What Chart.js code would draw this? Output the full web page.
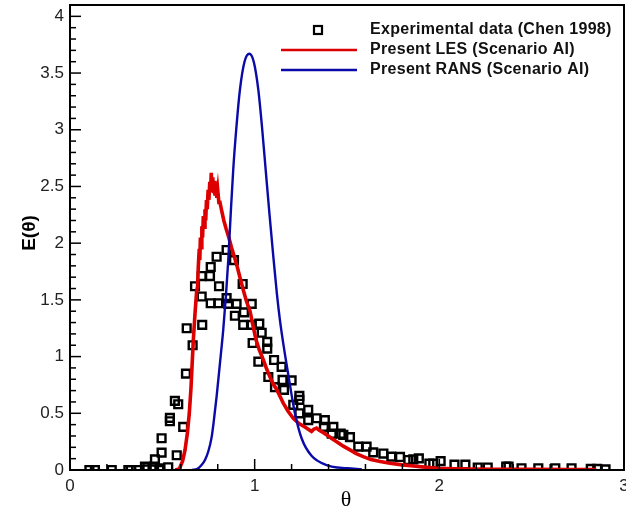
<!DOCTYPE html>
<html lang="en">

<head>
    <meta charset="UTF-8">
    <title>E(θ) residence time distribution</title>
    <script src="https://cdn.jsdelivr.net/npm/chart.js"></script>
    <style>
        body {
            margin: 0;
            background: #ffffff;
        }

        #wrap {
            width: 626px;
            height: 514px;
        }
    </style>
</head>

<body>
    <div id="wrap"><canvas id="rtd" width="626" height="514"></canvas></div>

    <script>
        // Experimental data (Chen 1998)
        const expTheta = [0.105, 0.135, 0.226, 0.316, 0.329, 0.374, 0.406, 0.415, 0.448, 0.455, 0.484, 0.487, 0.532,
            0.46, 0.496, 0.578, 0.496, 0.541, 0.541, 0.613, 0.568, 0.586, 0.628, 0.664, 0.632, 0.716,
            0.677, 0.713, 0.713, 0.758, 0.762, 0.794, 0.848, 0.888, 0.807, 0.935, 0.762, 0.803, 0.848,
            0.857, 0.902, 0.984, 0.893, 0.942, 0.938, 1.025, 0.984, 1.038, 0.989, 1.068, 1.068, 1.02,
            1.105, 1.146, 1.074, 1.151, 1.2, 1.11, 1.159, 1.242, 1.242, 1.209, 1.29, 1.242, 1.29, 1.335,
            1.38, 1.375, 1.426, 1.417, 1.466, 1.48, 1.516, 1.561, 1.606, 1.642, 1.697, 1.74, 1.787,
            1.832, 1.859, 1.889, 1.946, 1.967, 2.007, 2.082, 2.141, 2.208, 2.262, 2.362, 2.375, 2.445,
            2.536, 2.628, 2.716, 2.82, 2.855, 2.9];
        const expE = [0, 0, 0, 0, 0, 0, 0.03, 0.005, 0.006, 0.03, 0, 0.015, 0.024,
            0.094, 0.153, 0.13, 0.28, 0.43, 0.46, 0.38, 0.61, 0.58, 0.85, 1.10, 1.25, 1.28,
            1.62, 1.71, 1.53, 1.71, 1.79, 1.88, 1.94, 1.85, 1.62, 1.64, 1.47, 1.47, 1.515,
            1.465, 1.465, 1.465, 1.36, 1.39, 1.28, 1.29, 1.28, 1.21, 1.12, 1.13, 1.07, 0.955,
            0.97, 0.91, 0.82, 0.794, 0.79, 0.73, 0.706, 0.653, 0.618, 0.574, 0.53, 0.5, 0.44, 0.456,
            0.44, 0.38, 0.38, 0.32, 0.32, 0.31, 0.29, 0.206, 0.206, 0.155, 0.145, 0.118, 0.115,
            0.088, 0.094, 0.103, 0.056, 0.056, 0.078, 0.047, 0.047, 0.022, 0.022, 0.03, 0.03, 0.015,
            0.015, 0.015, 0.015, 0.01, 0.01, 0.006];

        // Present LES (Scenario AI) - noisy band around the peak
        const lesTheta = [0.57, 0.592, 0.61, 0.623, 0.636, 0.646, 0.655, 0.661, 0.668, 0.677, 0.686, 0.691, 0.695,
            0.700, 0.703, 0.706, 0.71, 0.714, 0.718, 0.722, 0.726, 0.731, 0.735, 0.739, 0.743, 0.748,
            0.752, 0.757, 0.761, 0.765, 0.769, 0.773, 0.777, 0.781, 0.785, 0.79, 0.795, 0.8, 0.806,
            0.812, 0.821, 0.833, 0.845,
            0.86, 0.875, 0.89, 0.906, 0.92, 0.938, 0.955, 0.975, 0.99, 1.007, 1.025, 1.047, 1.065,
            1.083, 1.1, 1.119, 1.137, 1.155, 1.18, 1.209, 1.24, 1.272, 1.29, 1.308, 1.32, 1.335, 1.35,
            1.37, 1.39, 1.415, 1.444, 1.48, 1.516, 1.55, 1.588, 1.63, 1.68, 1.733, 1.8, 1.859, 1.92,
            1.985, 2.08, 2.166, 2.3, 2.5, 2.7, 2.85];
        const lesE = [0, 0.01, 0.08, 0.177, 0.33, 0.5, 0.72, 0.92, 1.15, 1.38, 1.58, 1.62, 1.8,
            1.95, 1.85, 2.05, 1.96, 2.15, 2.05, 2.24, 2.14, 2.3, 2.2, 2.38, 2.3, 2.47,
            2.38, 2.54, 2.45, 2.62, 2.48, 2.58, 2.44, 2.55, 2.42, 2.52, 2.4, 2.47, 2.36,
            2.36, 2.29, 2.2, 2.13,
            2.05, 1.96, 1.88, 1.79, 1.7, 1.59, 1.49, 1.40, 1.28, 1.15, 1.06, 0.97, 0.89,
            0.82, 0.76, 0.71, 0.65, 0.59, 0.52, 0.456, 0.41, 0.38, 0.36, 0.34, 0.36, 0.37, 0.35,
            0.33, 0.31, 0.28, 0.25, 0.21, 0.177, 0.145, 0.118, 0.092, 0.074, 0.059, 0.045, 0.035, 0.025,
            0.015, 0.011, 0.009, 0.007, 0.006, 0.005, 0.005];

        // Present RANS (Scenario AI)
        const ransTheta = [0.66, 0.69, 0.71, 0.731, 0.75, 0.767, 0.78, 0.794, 0.812, 0.83, 0.845, 0.857, 0.87,
            0.884, 0.90, 0.92, 0.945, 0.971, 0.995, 1.02, 1.04, 1.06, 1.08, 1.10, 1.12, 1.137, 1.164,
            1.19, 1.218, 1.254, 1.308, 1.39, 1.5, 1.58];
        const ransE = [0, 0.01, 0.04, 0.088, 0.17, 0.29, 0.45, 0.65, 0.94, 1.24, 1.55, 1.85, 2.25,
            2.65, 3.0, 3.35, 3.6, 3.67, 3.6, 3.35, 3.02, 2.64, 2.26, 1.9, 1.56, 1.32, 1.02,
            0.76, 0.50, 0.28, 0.125, 0.044, 0.015, 0.006];

        const xTicks = [0, 1, 2, 3];
        const yTicks = [0, 0.5, 1, 1.5, 2, 2.5, 3, 3.5, 4];

        const labelFont = "'Liberation Sans', Arial, sans-serif";

        function toPoints(xs, ys) {
            return xs.map((x, i) => ({ x: x, y: ys[i] }));
        }

        // inward ticks, frame, legend and axis titles
        const decorations = {
            id: 'decorations',
            afterDraw(chart) {
                const ctx = chart.ctx;
                const area = chart.chartArea;
                const xs = chart.scales.x;
                const ys = chart.scales.y;
                ctx.save();
                ctx.strokeStyle = '#000';

                ctx.lineWidth = 1.5;
                for (let i = 0; i <= 15; i++) {
                    const px = xs.getPixelForValue(i * 0.2);
                    const len = (i % 5 === 0) ? 11 : 6;
                    ctx.beginPath();
                    ctx.moveTo(px, area.bottom);
                    ctx.lineTo(px, area.bottom - len);
                    ctx.stroke();
                }
                for (let i = 0; i <= 40; i++) {
                    const py = ys.getPixelForValue(i * 0.1);
                    const len = (i % 5 === 0) ? 11 : 6;
                    ctx.beginPath();
                    ctx.moveTo(area.left, py);
                    ctx.lineTo(area.left + len, py);
                    ctx.stroke();
                }

                ctx.lineWidth = 2;
                ctx.strokeRect(area.left, area.top, area.right - area.left, area.bottom - area.top);

                // legend
                const sets = chart.data.datasets;
                const rows = [
                    { ds: sets[2], y: 30 },
                    { ds: sets[1], y: 50 },
                    { ds: sets[0], y: 70 }
                ];
                ctx.font = "bold 16px " + labelFont;
                ctx.letterSpacing = '0.3px';
                ctx.textBaseline = 'middle';
                ctx.textAlign = 'left';
                rows.forEach(r => {
                    if (r.ds.showLine === false) {
                        ctx.lineWidth = 2.2;
                        ctx.strokeStyle = '#000';
                        ctx.strokeRect(314, r.y - 4, 8, 8);
                    } else {
                        ctx.lineWidth = 2.5;
                        ctx.strokeStyle = r.ds.borderColor;
                        ctx.beginPath();
                        ctx.moveTo(281, r.y);
                        ctx.lineTo(357, r.y);
                        ctx.stroke();
                    }
                    ctx.fillStyle = '#111';
                    ctx.fillText(r.ds.label, 370, r.y);
                });
                ctx.letterSpacing = '0px';

                // axis titles
                ctx.fillStyle = '#000';
                ctx.textAlign = 'center';
                ctx.font = "22px 'Liberation Serif', 'Times New Roman', serif";
                ctx.fillText('θ', 346, 500);
                ctx.save();
                ctx.translate(30, 233);
                ctx.rotate(-Math.PI / 2);
                ctx.font = "bold 19px " + labelFont;
                ctx.fillText('E(θ)', 0, 0);
                ctx.restore();

                ctx.restore();
            }
        };

        const ctx = document.getElementById('rtd').getContext('2d');
        new Chart(ctx, {
            type: 'line',
            data: {
                datasets: [{
                    label: 'Present RANS (Scenario AI)',
                    data: toPoints(ransTheta, ransE),
                    borderColor: '#0a0aa8',
                    borderWidth: 2.4,
                    pointRadius: 0,
                    cubicInterpolationMode: 'monotone',
                    fill: false
                }, {
                    label: 'Present LES (Scenario AI)',
                    data: toPoints(lesTheta, lesE),
                    borderColor: '#dc0000',
                    borderWidth: 3.6,
                    pointRadius: 0,
                    tension: 0,
                    fill: false
                }, {
                    label: 'Experimental data (Chen 1998)',
                    data: toPoints(expTheta, expE),
                    showLine: false,
                    pointStyle: 'rect',
                    pointRadius: 5.5,
                    pointBorderWidth: 2.4,
                    pointBorderColor: '#000',
                    pointBackgroundColor: 'rgba(0,0,0,0)',
                    borderColor: '#000'
                }]
            },
            options: {
                responsive: false,
                animation: false,
                devicePixelRatio: 1,
                layout: {
                    autoPadding: false,
                    padding: { left: 0, top: 5, right: 2, bottom: 0 }
                },
                scales: {
                    x: {
                        type: 'linear',
                        min: 0,
                        max: 3,
                        afterBuildTicks: s => { s.ticks = xTicks.map(v => ({ value: v })); },
                        afterFit: s => {
                            s.height = 44;
                            s.paddingLeft = 0;
                            s.paddingRight = 0;
                        },
                        grid: { display: false, drawTicks: false },
                        border: { display: false },
                        ticks: {
                            padding: 6,
                            maxRotation: 0,
                            autoSkip: false,
                            color: '#222',
                            font: { family: labelFont, size: 17 }
                        }
                    },
                    y: {
                        type: 'linear',
                        min: 0,
                        max: 4.1,
                        afterBuildTicks: s => { s.ticks = yTicks.map(v => ({ value: v })); },
                        afterFit: s => {
                            s.width = 70;
                            s.paddingTop = 0;
                            s.paddingBottom = 0;
                        },
                        grid: { display: false, drawTicks: false },
                        border: { display: false },
                        ticks: {
                            padding: 6,
                            autoSkip: false,
                            color: '#222',
                            font: { family: labelFont, size: 17 },
                            callback: v => String(v)
                        }
                    }
                },
                plugins: {
                    legend: { display: false },
                    tooltip: { enabled: false }
                }
            },
            plugins: [decorations]
        });
    </script>
</body>

</html>
